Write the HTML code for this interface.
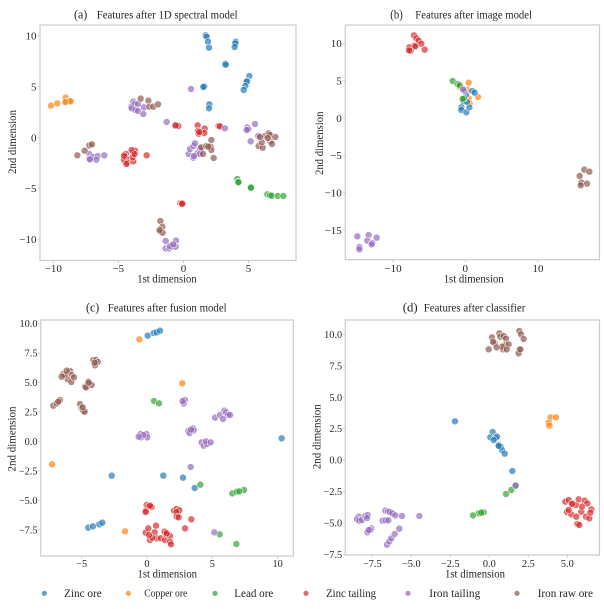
<!DOCTYPE html>
<html><head><meta charset="utf-8"><style>
html,body{margin:0;padding:0;background:#fff;}
svg{display:block;}
text{font-family:"Liberation Serif","DejaVu Serif",serif;fill:#262626;}
.b{fill:#1f77b4}.o{fill:#ff7f0e}.g{fill:#2ca02c}.r{fill:#d62728}.p{fill:#9467bd}.n{fill:#8c564b}
.pts circle{fill-opacity:.68;stroke:#fff;stroke-width:1.6;}
.fr{fill:none;stroke:#cccccc;stroke-width:1.2;}
.tk{stroke:#cccccc;stroke-width:1;}
.tl{font-size:11px;}
.tl2{font-size:10.3px;}
.lg circle{fill-opacity:.7;}
</style></head><body>
<svg width="604" height="609" viewBox="0 0 604 609" xmlns="http://www.w3.org/2000/svg">
<rect width="604" height="609" fill="#fff"/>

<!-- ===== Panel (a) ===== -->
<rect class="fr" x="40" y="25" width="256" height="235.5"/>
<g class="tk">
<line x1="53.3" y1="260.5" x2="53.3" y2="263"/><line x1="118.3" y1="260.5" x2="118.3" y2="263"/><line x1="183.5" y1="260.5" x2="183.5" y2="263"/><line x1="248.5" y1="260.5" x2="248.5" y2="263"/>
<line x1="37.5" y1="35.7" x2="40" y2="35.7"/><line x1="37.5" y1="86.7" x2="40" y2="86.7"/><line x1="37.5" y1="137.5" x2="40" y2="137.5"/><line x1="37.5" y1="188.3" x2="40" y2="188.3"/><line x1="37.5" y1="239.2" x2="40" y2="239.2"/>
</g>
<g class="tl" text-anchor="middle">
<text x="53.3" y="272.1">−10</text><text x="118.3" y="272.1">−5</text><text x="183.5" y="272.1">0</text><text x="248.5" y="272.1">5</text>
</g>
<g class="tl" text-anchor="end">
<text x="36.5" y="39.5">10</text><text x="36.5" y="90.5">5</text><text x="36.5" y="141.3">0</text><text x="36.5" y="192.1">−5</text><text x="36.5" y="243">−10</text>
</g>
<text x="74" y="18.3" font-size="13" textLength="13.3" lengthAdjust="spacingAndGlyphs">(a)</text>
<text x="96.7" y="18.3" font-size="11.5" textLength="141" lengthAdjust="spacingAndGlyphs">Features after 1D spectral model</text>
<text x="137.3" y="282.7" font-size="11.5" textLength="59.4" lengthAdjust="spacingAndGlyphs">1st dimension</text>
<text transform="translate(16.2,142) rotate(-90)" text-anchor="middle" font-size="11.5" textLength="64" lengthAdjust="spacingAndGlyphs">2nd dimension</text>
<g class="pts" transform="scale(0.33333)">
<g class="b"><circle cx="617" cy="106" r="10.5"/><circle cx="620" cy="110" r="10.5"/><circle cx="624" cy="125" r="10.5"/><circle cx="627" cy="143" r="10.5"/><circle cx="707" cy="125" r="10.5"/><circle cx="706" cy="130" r="10.5"/><circle cx="704" cy="141" r="10.5"/><circle cx="676" cy="191" r="10.5"/><circle cx="677" cy="194" r="10.5"/><circle cx="748" cy="228" r="10.5"/><circle cx="742" cy="243" r="10.5"/><circle cx="740" cy="245" r="10.5"/><circle cx="736" cy="258" r="10.5"/><circle cx="731" cy="270" r="10.5"/><circle cx="613" cy="259" r="10.5"/><circle cx="610" cy="261" r="10.5"/><circle cx="628" cy="313" r="10.5"/><circle cx="627" cy="325" r="10.5"/></g>
<g class="g"><circle cx="712" cy="537" r="10.5"/><circle cx="716" cy="545" r="10.5"/><circle cx="715" cy="547" r="10.5"/><circle cx="752" cy="563" r="10.5"/><circle cx="753" cy="563" r="10.5"/><circle cx="802" cy="583" r="10.5"/><circle cx="810" cy="586" r="10.5"/><circle cx="815" cy="587" r="10.5"/><circle cx="833" cy="588" r="10.5"/><circle cx="850" cy="588" r="10.5"/></g>
<g class="o"><circle cx="153" cy="317" r="10.5"/><circle cx="172" cy="310" r="10.5"/><circle cx="197" cy="293" r="10.5"/><circle cx="199" cy="305" r="10.5"/><circle cx="208" cy="303" r="10.5"/><circle cx="212" cy="304" r="10.5"/><circle cx="196" cy="306" r="10.5"/></g>
<g class="r"><circle cx="405" cy="452" r="10.5"/><circle cx="399" cy="458" r="10.5"/><circle cx="395" cy="450" r="10.5"/><circle cx="378" cy="462" r="10.5"/><circle cx="376" cy="470" r="10.5"/><circle cx="380" cy="478" r="10.5"/><circle cx="372" cy="480" r="10.5"/><circle cx="383" cy="488" r="10.5"/><circle cx="379" cy="492" r="10.5"/><circle cx="400" cy="484" r="10.5"/><circle cx="398" cy="472" r="10.5"/><circle cx="404" cy="462" r="10.5"/><circle cx="372" cy="467" r="10.5"/><circle cx="440" cy="466" r="10.5"/><circle cx="525" cy="377" r="10.5"/><circle cx="535" cy="378" r="10.5"/><circle cx="527" cy="376" r="10.5"/><circle cx="593" cy="376" r="10.5"/><circle cx="594" cy="393" r="10.5"/><circle cx="614" cy="386" r="10.5"/><circle cx="613" cy="399" r="10.5"/><circle cx="596" cy="401" r="10.5"/><circle cx="598" cy="396" r="10.5"/><circle cx="656" cy="378" r="10.5"/><circle cx="660" cy="379" r="10.5"/><circle cx="541" cy="610" r="10.5"/><circle cx="545" cy="612" r="10.5"/><circle cx="547" cy="611" r="10.5"/></g>
<g class="p"><circle cx="573" cy="267" r="10.5"/><circle cx="500" cy="366" r="10.5"/><circle cx="675" cy="385" r="10.5"/><circle cx="400" cy="305" r="10.5"/><circle cx="394" cy="320" r="10.5"/><circle cx="404" cy="312" r="10.5"/><circle cx="414" cy="312" r="10.5"/><circle cx="395" cy="325" r="10.5"/><circle cx="406" cy="330" r="10.5"/><circle cx="414" cy="333" r="10.5"/><circle cx="430" cy="342" r="10.5"/><circle cx="432" cy="322" r="10.5"/><circle cx="268" cy="462" r="10.5"/><circle cx="268" cy="476" r="10.5"/><circle cx="279" cy="471" r="10.5"/><circle cx="293" cy="468" r="10.5"/><circle cx="289" cy="479" r="10.5"/><circle cx="313" cy="466" r="10.5"/><circle cx="270" cy="478" r="10.5"/><circle cx="566" cy="462" r="10.5"/><circle cx="570" cy="447" r="10.5"/><circle cx="580" cy="438" r="10.5"/><circle cx="585" cy="430" r="10.5"/><circle cx="592" cy="460" r="10.5"/><circle cx="600" cy="446" r="10.5"/><circle cx="600" cy="462" r="10.5"/><circle cx="580" cy="473" r="10.5"/><circle cx="582" cy="468" r="10.5"/><circle cx="742" cy="382" r="10.5"/><circle cx="745" cy="388" r="10.5"/><circle cx="740" cy="390" r="10.5"/><circle cx="765" cy="372" r="10.5"/><circle cx="752" cy="424" r="10.5"/><circle cx="775" cy="408" r="10.5"/><circle cx="497" cy="723" r="10.5"/><circle cx="497" cy="745" r="10.5"/><circle cx="508" cy="745" r="10.5"/><circle cx="516" cy="740" r="10.5"/><circle cx="528" cy="722" r="10.5"/><circle cx="527" cy="740" r="10.5"/><circle cx="510" cy="738" r="10.5"/><circle cx="520" cy="733" r="10.5"/></g>
<g class="n"><circle cx="232" cy="466" r="10.5"/><circle cx="254" cy="452" r="10.5"/><circle cx="268" cy="436" r="10.5"/><circle cx="276" cy="433" r="10.5"/><circle cx="422" cy="296" r="10.5"/><circle cx="445" cy="302" r="10.5"/><circle cx="448" cy="320" r="10.5"/><circle cx="460" cy="320" r="10.5"/><circle cx="474" cy="313" r="10.5"/><circle cx="604" cy="442" r="10.5"/><circle cx="619" cy="438" r="10.5"/><circle cx="634" cy="420" r="10.5"/><circle cx="632" cy="440" r="10.5"/><circle cx="634" cy="450" r="10.5"/><circle cx="641" cy="474" r="10.5"/><circle cx="609" cy="462" r="10.5"/><circle cx="625" cy="440" r="10.5"/><circle cx="481" cy="663" r="10.5"/><circle cx="487" cy="680" r="10.5"/><circle cx="481" cy="695" r="10.5"/><circle cx="488" cy="698" r="10.5"/><circle cx="479" cy="690" r="10.5"/><circle cx="776" cy="438" r="10.5"/><circle cx="788" cy="443" r="10.5"/><circle cx="785" cy="427" r="10.5"/><circle cx="795" cy="408" r="10.5"/><circle cx="806" cy="400" r="10.5"/><circle cx="811" cy="424" r="10.5"/><circle cx="816" cy="432" r="10.5"/><circle cx="810" cy="405" r="10.5"/><circle cx="826" cy="411" r="10.5"/><circle cx="803" cy="414" r="10.5"/><circle cx="780" cy="411" r="10.5"/></g>
</g>

<!-- ===== Panel (b) ===== -->
<rect class="fr" x="345.3" y="25" width="254.2" height="234.7"/>
<g class="tk">
<line x1="393" y1="259.7" x2="393" y2="262.2"/><line x1="465.3" y1="259.7" x2="465.3" y2="262.2"/><line x1="538" y1="259.7" x2="538" y2="262.2"/>
<line x1="342.8" y1="43.3" x2="345.3" y2="43.3"/><line x1="342.8" y1="80.7" x2="345.3" y2="80.7"/><line x1="342.8" y1="118" x2="345.3" y2="118"/><line x1="342.8" y1="155.3" x2="345.3" y2="155.3"/><line x1="342.8" y1="192.7" x2="345.3" y2="192.7"/><line x1="342.8" y1="230" x2="345.3" y2="230"/>
</g>
<g class="tl" text-anchor="middle">
<text x="393" y="272.1">−10</text><text x="465.3" y="272.1">0</text><text x="538" y="272.1">10</text>
</g>
<g class="tl" text-anchor="end">
<text x="341.8" y="47.1">10</text><text x="341.8" y="84.5">5</text><text x="341.8" y="121.8">0</text><text x="341.8" y="159.1">−5</text><text x="341.8" y="196.5">−10</text><text x="341.8" y="233.8">−15</text>
</g>
<text x="390.3" y="18.3" font-size="13" textLength="12.5" lengthAdjust="spacingAndGlyphs">(b)</text>
<text x="415.3" y="18.3" font-size="11.5" textLength="116.7" lengthAdjust="spacingAndGlyphs">Features after image model</text>
<text x="443.7" y="282.7" font-size="11.5" textLength="60" lengthAdjust="spacingAndGlyphs">1st dimension</text>
<text transform="translate(322.8,143.3) rotate(-90)" text-anchor="middle" font-size="11.5" textLength="63.5" lengthAdjust="spacingAndGlyphs">2nd dimension</text>
<g class="pts" transform="translate(302,0) scale(0.33333)">
<g class="r"><circle cx="336" cy="106" r="10.5"/><circle cx="343" cy="115" r="10.5"/><circle cx="350" cy="122" r="10.5"/><circle cx="337" cy="137" r="10.5"/><circle cx="322" cy="142" r="10.5"/><circle cx="326" cy="152" r="10.5"/><circle cx="321" cy="151" r="10.5"/><circle cx="358" cy="131" r="10.5"/><circle cx="368" cy="149" r="10.5"/><circle cx="340" cy="139" r="10.5"/></g>
<g class="o"><circle cx="500" cy="248" r="10.5"/><circle cx="497" cy="270" r="10.5"/><circle cx="500" cy="295" r="10.5"/><circle cx="528" cy="291" r="10.5"/><circle cx="503" cy="310" r="10.5"/><circle cx="472" cy="260" r="10.5"/></g>
<g class="b"><circle cx="511" cy="273" r="10.5"/><circle cx="518" cy="278" r="10.5"/><circle cx="492" cy="285" r="10.5"/><circle cx="485" cy="305" r="10.5"/><circle cx="478" cy="322" r="10.5"/><circle cx="478" cy="330" r="10.5"/><circle cx="493" cy="337" r="10.5"/><circle cx="502" cy="322" r="10.5"/><circle cx="495" cy="305" r="10.5"/></g>
<g class="g"><circle cx="452" cy="243" r="10.5"/><circle cx="467" cy="252" r="10.5"/><circle cx="473" cy="256" r="10.5"/><circle cx="486" cy="295" r="10.5"/><circle cx="482" cy="297" r="10.5"/></g>
<g class="p"><circle cx="487" cy="272" r="10.5"/><circle cx="483" cy="268" r="10.5"/><circle cx="166" cy="709" r="10.5"/><circle cx="172" cy="741" r="10.5"/><circle cx="172" cy="748" r="10.5"/><circle cx="200" cy="705" r="10.5"/><circle cx="196" cy="722" r="10.5"/><circle cx="211" cy="729" r="10.5"/><circle cx="209" cy="733" r="10.5"/><circle cx="224" cy="713" r="10.5"/></g>
<g class="n"><circle cx="847" cy="509" r="10.5"/><circle cx="862" cy="515" r="10.5"/><circle cx="833" cy="528" r="10.5"/><circle cx="838" cy="548" r="10.5"/><circle cx="855" cy="551" r="10.5"/><circle cx="836" cy="556" r="10.5"/></g>
</g>

<!-- ===== Panel (c) ===== -->
<rect class="fr" x="40.7" y="320" width="252.6" height="236"/>
<g class="tk">
<line x1="81.7" y1="556" x2="81.7" y2="558.5"/><line x1="147" y1="556" x2="147" y2="558.5"/><line x1="212.3" y1="556" x2="212.3" y2="558.5"/><line x1="277.6" y1="556" x2="277.6" y2="558.5"/>
<line x1="38.2" y1="323.5" x2="40.7" y2="323.5"/><line x1="38.2" y1="353" x2="40.7" y2="353"/><line x1="38.2" y1="382.5" x2="40.7" y2="382.5"/><line x1="38.2" y1="412" x2="40.7" y2="412"/><line x1="38.2" y1="441.5" x2="40.7" y2="441.5"/><line x1="38.2" y1="471" x2="40.7" y2="471"/><line x1="38.2" y1="500.5" x2="40.7" y2="500.5"/><line x1="38.2" y1="530" x2="40.7" y2="530"/>
</g>
<g class="tl2" text-anchor="middle">
<text x="81.7" y="566.8">−5</text><text x="147" y="566.8">0</text><text x="212.3" y="566.8">5</text><text x="277.6" y="566.8">10</text>
</g>
<g class="tl2" text-anchor="end">
<text x="37.5" y="327.1">10.0</text><text x="37.5" y="356.6">7.5</text><text x="37.5" y="386.1">5.0</text><text x="37.5" y="415.6">2.5</text><text x="37.5" y="445.1">0.0</text><text x="37.5" y="474.6">−2.5</text><text x="37.5" y="504.1">−5.0</text><text x="37.5" y="533.6">−7.5</text>
</g>
<text x="86" y="311.7" font-size="13" textLength="13.3" lengthAdjust="spacingAndGlyphs">(c)</text>
<text x="107.7" y="311.7" font-size="11.5" textLength="119" lengthAdjust="spacingAndGlyphs">Features after fusion model</text>
<text x="137.5" y="577.7" font-size="11.5" textLength="59.5" lengthAdjust="spacingAndGlyphs">1st dimension</text>
<text transform="translate(15.3,439) rotate(-90)" text-anchor="middle" font-size="11.5" textLength="65" lengthAdjust="spacingAndGlyphs">2nd dimension</text>
<g class="pts" transform="translate(0,300) scale(0.33333)">
<g class="n"><circle cx="190" cy="222" r="10.5"/><circle cx="210" cy="213" r="10.5"/><circle cx="215" cy="225" r="10.5"/><circle cx="203" cy="238" r="10.5"/><circle cx="195" cy="225" r="10.5"/><circle cx="214" cy="246" r="10.5"/><circle cx="222" cy="232" r="10.5"/><circle cx="185" cy="230" r="10.5"/><circle cx="200" cy="212" r="10.5"/><circle cx="280" cy="180" r="10.5"/><circle cx="288" cy="180" r="10.5"/><circle cx="293" cy="186" r="10.5"/><circle cx="285" cy="196" r="10.5"/><circle cx="284" cy="188" r="10.5"/><circle cx="255" cy="260" r="10.5"/><circle cx="265" cy="245" r="10.5"/><circle cx="258" cy="262" r="10.5"/><circle cx="275" cy="255" r="10.5"/><circle cx="266" cy="248" r="10.5"/><circle cx="160" cy="317" r="10.5"/><circle cx="170" cy="310" r="10.5"/><circle cx="180" cy="300" r="10.5"/><circle cx="175" cy="305" r="10.5"/><circle cx="240" cy="312" r="10.5"/><circle cx="245" cy="325" r="10.5"/><circle cx="250" cy="333" r="10.5"/><circle cx="254" cy="335" r="10.5"/><circle cx="248" cy="322" r="10.5"/></g>
<g class="b"><circle cx="443" cy="107" r="10.5"/><circle cx="461" cy="99" r="10.5"/><circle cx="470" cy="97" r="10.5"/><circle cx="480" cy="92" r="10.5"/><circle cx="335" cy="527" r="10.5"/><circle cx="490" cy="527" r="10.5"/><circle cx="549" cy="533" r="10.5"/><circle cx="584" cy="564" r="10.5"/><circle cx="265" cy="683" r="10.5"/><circle cx="279" cy="679" r="10.5"/><circle cx="298" cy="673" r="10.5"/><circle cx="307" cy="668" r="10.5"/><circle cx="845" cy="415" r="10.5"/></g>
<g class="o"><circle cx="418" cy="118" r="10.5"/><circle cx="547" cy="250" r="10.5"/><circle cx="156" cy="493" r="10.5"/><circle cx="375" cy="694" r="10.5"/></g>
<g class="g"><circle cx="462" cy="303" r="10.5"/><circle cx="477" cy="310" r="10.5"/><circle cx="601" cy="554" r="10.5"/><circle cx="697" cy="580" r="10.5"/><circle cx="710" cy="575" r="10.5"/><circle cx="732" cy="570" r="10.5"/><circle cx="718" cy="574" r="10.5"/><circle cx="659" cy="703" r="10.5"/><circle cx="709" cy="732" r="10.5"/></g>
<g class="r"><circle cx="440" cy="615" r="10.5"/><circle cx="445" cy="620" r="10.5"/><circle cx="437" cy="632" r="10.5"/><circle cx="437" cy="636" r="10.5"/><circle cx="455" cy="621" r="10.5"/><circle cx="450" cy="617" r="10.5"/><circle cx="522" cy="632" r="10.5"/><circle cx="530" cy="627" r="10.5"/><circle cx="533" cy="640" r="10.5"/><circle cx="538" cy="631" r="10.5"/><circle cx="529" cy="636" r="10.5"/><circle cx="530" cy="650" r="10.5"/><circle cx="536" cy="652" r="10.5"/><circle cx="574" cy="658" r="10.5"/><circle cx="555" cy="685" r="10.5"/><circle cx="437" cy="698" r="10.5"/><circle cx="445" cy="685" r="10.5"/><circle cx="468" cy="677" r="10.5"/><circle cx="464" cy="697" r="10.5"/><circle cx="470" cy="715" r="10.5"/><circle cx="482" cy="715" r="10.5"/><circle cx="495" cy="720" r="10.5"/><circle cx="498" cy="703" r="10.5"/><circle cx="510" cy="708" r="10.5"/><circle cx="510" cy="725" r="10.5"/><circle cx="494" cy="695" r="10.5"/><circle cx="450" cy="720" r="10.5"/><circle cx="457" cy="713" r="10.5"/><circle cx="447" cy="705" r="10.5"/><circle cx="513" cy="733" r="10.5"/><circle cx="500" cy="700" r="10.5"/></g>
<g class="p"><circle cx="555" cy="300" r="10.5"/><circle cx="551" cy="310" r="10.5"/><circle cx="548" cy="303" r="10.5"/><circle cx="422" cy="402" r="10.5"/><circle cx="439" cy="402" r="10.5"/><circle cx="424" cy="412" r="10.5"/><circle cx="442" cy="412" r="10.5"/><circle cx="430" cy="405" r="10.5"/><circle cx="416" cy="410" r="10.5"/><circle cx="565" cy="393" r="10.5"/><circle cx="579" cy="385" r="10.5"/><circle cx="569" cy="399" r="10.5"/><circle cx="581" cy="391" r="10.5"/><circle cx="573" cy="389" r="10.5"/><circle cx="645" cy="353" r="10.5"/><circle cx="660" cy="345" r="10.5"/><circle cx="673" cy="332" r="10.5"/><circle cx="678" cy="337" r="10.5"/><circle cx="684" cy="344" r="10.5"/><circle cx="669" cy="357" r="10.5"/><circle cx="690" cy="345" r="10.5"/><circle cx="605" cy="427" r="10.5"/><circle cx="611" cy="437" r="10.5"/><circle cx="621" cy="432" r="10.5"/><circle cx="618" cy="424" r="10.5"/><circle cx="632" cy="427" r="10.5"/><circle cx="572" cy="501" r="10.5"/><circle cx="643" cy="697" r="10.5"/></g>
</g>

<!-- ===== Panel (d) ===== -->
<rect class="fr" x="345.3" y="320" width="254.2" height="235"/>
<g class="tk">
<line x1="372.3" y1="555" x2="372.3" y2="557.5"/><line x1="411.3" y1="555" x2="411.3" y2="557.5"/><line x1="450.3" y1="555" x2="450.3" y2="557.5"/><line x1="489.3" y1="555" x2="489.3" y2="557.5"/><line x1="528.3" y1="555" x2="528.3" y2="557.5"/><line x1="567.3" y1="555" x2="567.3" y2="557.5"/>
<line x1="342.8" y1="334.3" x2="345.3" y2="334.3"/><line x1="342.8" y1="365.7" x2="345.3" y2="365.7"/><line x1="342.8" y1="397.2" x2="345.3" y2="397.2"/><line x1="342.8" y1="428.6" x2="345.3" y2="428.6"/><line x1="342.8" y1="460.1" x2="345.3" y2="460.1"/><line x1="342.8" y1="491.5" x2="345.3" y2="491.5"/><line x1="342.8" y1="523" x2="345.3" y2="523"/><line x1="342.8" y1="554.4" x2="345.3" y2="554.4"/>
</g>
<g class="tl2" text-anchor="middle">
<text x="372.3" y="566.8">−7.5</text><text x="411.3" y="566.8">−5.0</text><text x="450.3" y="566.8">−2.5</text><text x="489.3" y="566.8">0.0</text><text x="528.3" y="566.8">2.5</text><text x="567.3" y="566.8">5.0</text>
</g>
<g class="tl2" text-anchor="end">
<text x="342.2" y="337.9">10.0</text><text x="342.2" y="369.3">7.5</text><text x="342.2" y="400.8">5.0</text><text x="342.2" y="432.2">2.5</text><text x="342.2" y="463.7">0.0</text><text x="342.2" y="495.1">−2.5</text><text x="342.2" y="526.6">−5.0</text><text x="342.2" y="558">−7.5</text>
</g>
<text x="402.7" y="311.7" font-size="13" textLength="15" lengthAdjust="spacingAndGlyphs">(d)</text>
<text x="423.7" y="311.7" font-size="11.5" textLength="101.7" lengthAdjust="spacingAndGlyphs">Features after classifier</text>
<text x="445" y="577.3" font-size="11.5" textLength="60" lengthAdjust="spacingAndGlyphs">1st dimension</text>
<text transform="translate(320.5,436.7) rotate(-90)" text-anchor="middle" font-size="11.5" textLength="65" lengthAdjust="spacingAndGlyphs">2nd dimension</text>
<g class="pts" transform="translate(302,300) scale(0.33333)">
<g class="n"><circle cx="560" cy="148" r="10.5"/><circle cx="570" cy="112" r="10.5"/><circle cx="578" cy="130" r="10.5"/><circle cx="592" cy="100" r="10.5"/><circle cx="595" cy="110" r="10.5"/><circle cx="605" cy="108" r="10.5"/><circle cx="612" cy="116" r="10.5"/><circle cx="610" cy="135" r="10.5"/><circle cx="603" cy="148" r="10.5"/><circle cx="620" cy="133" r="10.5"/><circle cx="600" cy="140" r="10.5"/><circle cx="584" cy="142" r="10.5"/><circle cx="614" cy="148" r="10.5"/><circle cx="652" cy="93" r="10.5"/><circle cx="657" cy="103" r="10.5"/><circle cx="665" cy="117" r="10.5"/><circle cx="652" cy="150" r="10.5"/><circle cx="650" cy="160" r="10.5"/><circle cx="655" cy="148" r="10.5"/><circle cx="573" cy="125" r="10.5"/></g>
<g class="b"><circle cx="459" cy="364" r="10.5"/><circle cx="572" cy="396" r="10.5"/><circle cx="565" cy="412" r="10.5"/><circle cx="580" cy="414" r="10.5"/><circle cx="590" cy="435" r="10.5"/><circle cx="596" cy="440" r="10.5"/><circle cx="600" cy="450" r="10.5"/><circle cx="608" cy="461" r="10.5"/><circle cx="585" cy="410" r="10.5"/><circle cx="575" cy="420" r="10.5"/><circle cx="590" cy="438" r="10.5"/><circle cx="631" cy="513" r="10.5"/></g>
<g class="o"><circle cx="746" cy="352" r="10.5"/><circle cx="762" cy="352" r="10.5"/><circle cx="740" cy="368" r="10.5"/><circle cx="742" cy="377" r="10.5"/></g>
<g class="g"><circle cx="640" cy="557" r="10.5"/><circle cx="628" cy="570" r="10.5"/><circle cx="612" cy="582" r="10.5"/><circle cx="530" cy="640" r="10.5"/><circle cx="513" cy="646" r="10.5"/><circle cx="545" cy="637" r="10.5"/><circle cx="538" cy="638" r="10.5"/></g>
<g class="p"><circle cx="641" cy="557" r="10.5"/><circle cx="170" cy="650" r="10.5"/><circle cx="165" cy="658" r="10.5"/><circle cx="172" cy="662" r="10.5"/><circle cx="180" cy="660" r="10.5"/><circle cx="190" cy="648" r="10.5"/><circle cx="197" cy="645" r="10.5"/><circle cx="195" cy="654" r="10.5"/><circle cx="208" cy="685" r="10.5"/><circle cx="205" cy="690" r="10.5"/><circle cx="196" cy="697" r="10.5"/><circle cx="200" cy="690" r="10.5"/><circle cx="250" cy="632" r="10.5"/><circle cx="258" cy="634" r="10.5"/><circle cx="263" cy="636" r="10.5"/><circle cx="271" cy="640" r="10.5"/><circle cx="280" cy="646" r="10.5"/><circle cx="242" cy="662" r="10.5"/><circle cx="251" cy="661" r="10.5"/><circle cx="259" cy="661" r="10.5"/><circle cx="255" cy="734" r="10.5"/><circle cx="262" cy="724" r="10.5"/><circle cx="268" cy="715" r="10.5"/><circle cx="278" cy="702" r="10.5"/><circle cx="292" cy="686" r="10.5"/><circle cx="300" cy="648" r="10.5"/><circle cx="352" cy="648" r="10.5"/></g>
<g class="r"><circle cx="790" cy="605" r="10.5"/><circle cx="800" cy="600" r="10.5"/><circle cx="812" cy="610" r="10.5"/><circle cx="822" cy="615" r="10.5"/><circle cx="830" cy="598" r="10.5"/><circle cx="848" cy="602" r="10.5"/><circle cx="856" cy="610" r="10.5"/><circle cx="868" cy="628" r="10.5"/><circle cx="795" cy="636" r="10.5"/><circle cx="808" cy="643" r="10.5"/><circle cx="823" cy="650" r="10.5"/><circle cx="838" cy="635" r="10.5"/><circle cx="852" cy="650" r="10.5"/><circle cx="862" cy="655" r="10.5"/><circle cx="826" cy="672" r="10.5"/><circle cx="832" cy="675" r="10.5"/><circle cx="810" cy="612" r="10.5"/><circle cx="865" cy="638" r="10.5"/><circle cx="840" cy="620" r="10.5"/><circle cx="800" cy="630" r="10.5"/></g>
</g>

<!-- ===== Legend ===== -->
<g class="lg">
<circle class="b" cx="44.3" cy="593.3" r="2.6"/>
<circle class="o" cx="128.3" cy="593.3" r="2.6"/>
<circle class="g" cx="215" cy="593.3" r="2.6"/>
<circle class="r" cx="306" cy="593.3" r="2.6"/>
<circle class="p" cx="408" cy="593.3" r="2.6"/>
<circle class="n" cx="517" cy="593.3" r="2.6"/>
</g>
<text x="64" y="597.2" font-size="12" textLength="37.7" lengthAdjust="spacingAndGlyphs">Zinc ore</text>
<text x="144.3" y="596.6" font-size="10" textLength="43" lengthAdjust="spacingAndGlyphs">Copper ore</text>
<text x="234.3" y="597.2" font-size="12" textLength="39" lengthAdjust="spacingAndGlyphs">Lead ore</text>
<text x="326" y="597.2" font-size="12" textLength="50" lengthAdjust="spacingAndGlyphs">Zinc tailing</text>
<text x="429.3" y="597.2" font-size="12" textLength="51" lengthAdjust="spacingAndGlyphs">Iron tailing</text>
<text x="537.7" y="597.2" font-size="12" textLength="55.3" lengthAdjust="spacingAndGlyphs">Iron raw ore</text>
</svg>
</body></html>
